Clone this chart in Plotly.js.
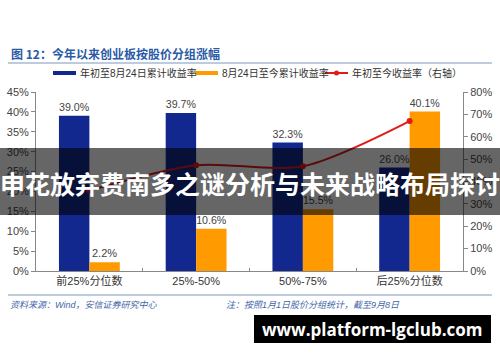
<!DOCTYPE html>
<html>
<head>
<meta charset="utf-8">
<script src="https://cdn.plot.ly/plotly-3.0.1.min.js"></script>
<style>
html,body{margin:0;padding:0;background:#fff;}
#chart{width:500px;height:362px;}
</style>
</head>
<body>
<div id="chart"></div>
<script>
// ---- data ----
const categories = ["前25%分位数", "25%-50%", "50%-75%", "后25%分位数"];
const seriesNames = ["年初至8月24日累计收益率", "8月24日至今累计收益率", "年初至今收益率（右轴）"];
const ytdTo0824 = [39.0, 39.7, 32.3, 26.0];
const since0824 = [2.2, 10.6, 15.5, 40.1];
const ytdTotal = [36.0, 47.3, 46.8, 67.0];
const titleText = "图 12：今年以来创业板按股价分组涨幅";
const sourceText = "资料来源：Wind，安信证券研究中心";
const noteText = "注：按照1月1日股价分组统计，截至9月8日";
const bannerText = "申花放弃费南多之谜分析与未来战略布局探讨";
const watermarkText = "www.platform-lgclub.com";

// ---- layout helpers (pixel -> paper) ----
const L = 36, R = 37, T = 92, B = 91, W = 500, H = 362;
const pw = W - L - R, ph = H - T - B;
const px = x => (x - L) / pw;
const py = y => (H - B - y) / ph;

const cBlue = "#12288f", cOrange = "#ff9a00", cRed = "#e01b1b";
const cjk = "Liberation Sans, Noto Sans CJK SC, sans-serif";

const traces = [
  {type: "bar", x: categories, y: ytdTo0824, name: seriesNames[0],
   marker: {color: cBlue}, text: ytdTo0824.map(v => v.toFixed(1) + "%"),
   textposition: "outside", textfont: {size: 11, color: "#444", family: cjk},
   cliponaxis: false, hoverinfo: "skip"},
  {type: "bar", x: categories, y: since0824, name: seriesNames[1],
   marker: {color: cOrange}, text: since0824.map(v => v.toFixed(1) + "%"),
   textposition: "outside", textfont: {size: 11, color: "#444", family: cjk},
   cliponaxis: false, hoverinfo: "skip"},
  {type: "scatter", mode: "lines+markers", x: categories, y: ytdTotal, name: seriesNames[2],
   yaxis: "y2", line: {color: cRed, width: 2, shape: "spline", smoothing: 0.8},
   marker: {color: cRed, size: 6}, cliponaxis: false, hoverinfo: "skip"}
];

const shapes = [
  {type: "line", xref: "paper", yref: "paper", x0: px(8), x1: px(492), y0: py(63), y1: py(63),
   line: {color: "#7f98bf", width: 1}},
  {type: "line", xref: "paper", yref: "paper", x0: px(8), x1: px(492), y0: py(295), y1: py(295),
   line: {color: "#7f98bf", width: 1}},
  // legend swatches
  {type: "line", xref: "paper", yref: "paper", x0: px(53), x1: px(76), y0: py(73), y1: py(73),
   line: {color: cBlue, width: 4}},
  {type: "line", xref: "paper", yref: "paper", x0: px(195), x1: px(218), y0: py(73), y1: py(73),
   line: {color: cOrange, width: 4}},
  {type: "line", xref: "paper", yref: "paper", x0: px(325), x1: px(348), y0: py(73), y1: py(73),
   line: {color: cRed, width: 2}},
  {type: "circle", xref: "paper", yref: "paper", x0: px(334), x1: px(339), y0: py(70.5), y1: py(75.5),
   fillcolor: cRed, line: {color: cRed, width: 0}},
  // banner
  {type: "rect", xref: "paper", yref: "paper", layer: "above", x0: px(0), x1: px(500), y0: py(148), y1: py(215),
   fillcolor: "rgba(0,0,0,0.6)", line: {width: 0}},
  // watermark box
  {type: "rect", xref: "paper", yref: "paper", layer: "above", x0: px(254), x1: px(491), y0: py(315), y1: py(343),
   fillcolor: "#000", line: {width: 0}}
];

const ann = (text, x, y, opts) => Object.assign({
  text: text, xref: "paper", yref: "paper", x: px(x), y: py(y), showarrow: false,
  xanchor: "left", yanchor: "middle", font: {family: cjk, size: 10, color: "#333"}
}, opts || {});

const annotations = [
  ann(titleText, 9, 54, {font: {family: "Noto Sans CJK SC", size: 12, color: "#2a5aa6", weight: "bold"}}),
  ann(seriesNames[0], 78, 73),
  ann(seriesNames[1], 220, 73),
  ann(seriesNames[2], 350, 73),
  ann(sourceText, 8, 305, {font: {family: cjk, size: 9, color: "#3f66a8", style: "italic"}}),
  ann(noteText, 224, 305, {font: {family: cjk, size: 9, color: "#3f66a8", style: "italic"}}),
  ann(bannerText, 250, 183, {xanchor: "center", font: {family: "Noto Sans CJK SC", size: 25, color: "#fff", weight: "bold"}}),
  ann(watermarkText, 372, 329, {xanchor: "center", font: {family: "Open Sans, DejaVu Sans", size: 17, color: "#fff", weight: "bold"}})
];

const layout = {
  width: W, height: H,
  margin: {l: L, r: R, t: T, b: B, pad: 0},
  paper_bgcolor: "#fff", plot_bgcolor: "#fff",
  showlegend: false,
  barmode: "group", bargap: 0.43, bargroupgap: 0,
  font: {family: cjk, size: 11, color: "#444"},
  xaxis: {type: "category", showline: true, linecolor: "#888", linewidth: 1,
          ticks: "inside", tickson: "boundaries", ticklen: 3, tickcolor: "#888",
          showgrid: false, zeroline: false, tickfont: {size: 11, color: "#333"}},
  yaxis: {range: [0, 45], dtick: 5, ticksuffix: "%", showline: true, linecolor: "#888",
          ticks: "outside", ticklen: 4, tickcolor: "#888", showgrid: false, zeroline: false,
          tickfont: {size: 11, color: "#444"}},
  yaxis2: {range: [0, 80], dtick: 10, ticksuffix: "%", overlaying: "y", side: "right",
           showline: true, linecolor: "#888", ticks: "outside", ticklen: 4, tickcolor: "#888",
           showgrid: false, zeroline: false, tickfont: {size: 11, color: "#444"}},
  shapes: shapes,
  annotations: annotations
};

Plotly.newPlot("chart", traces, layout, {staticPlot: true, displayModeBar: false});
</script>
</body>
</html>
